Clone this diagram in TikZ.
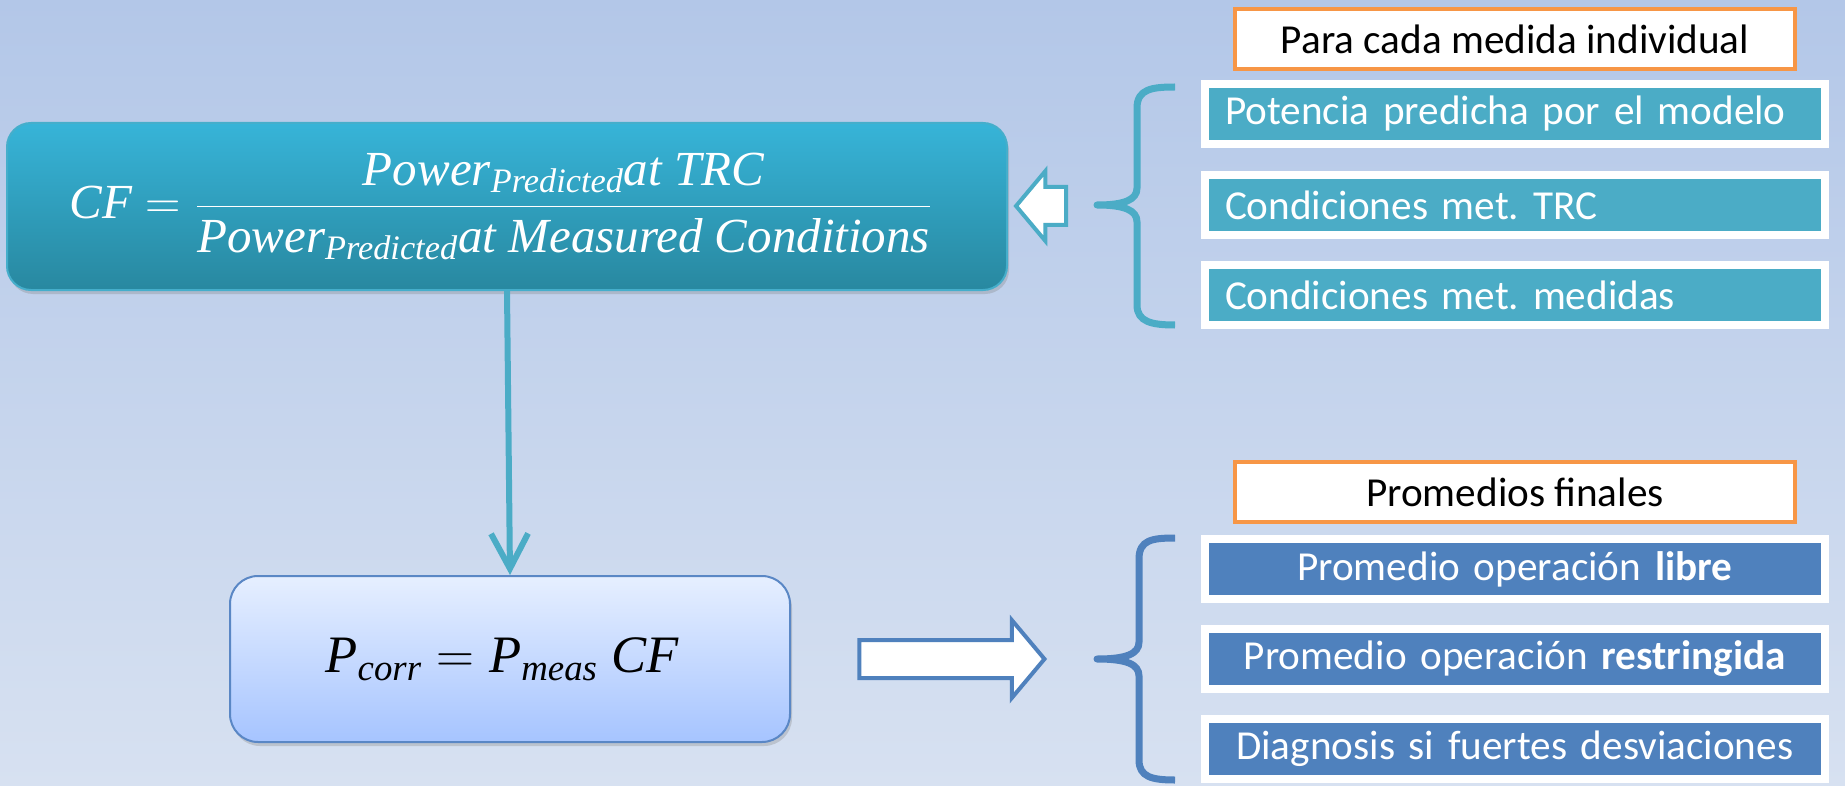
\RequirePackage{fix-cm}
\documentclass[tikz,border=0pt]{standalone}
\usepackage{fontspec}
\setmainfont{Carlito}
\newfontfamily\fserif{Liberation Serif}
\newcommand\fml{\fserif\itshape}
\frenchspacing
\usetikzlibrary{shapes.arrows,arrows.meta,shadows}
\definecolor{bgtop}{HTML}{B3C7E8}
\definecolor{bgbot}{HTML}{D7E1F1}
\definecolor{cftop}{HTML}{37B4D8}
\definecolor{cfbot}{HTML}{2888A0}
\definecolor{cfedge}{HTML}{45AECB}
\definecolor{tealc}{HTML}{4BACC6}
\definecolor{bluec}{HTML}{4F81BD}
\definecolor{orangec}{HTML}{F79646}
\definecolor{pboxtop}{HTML}{E6EFFF}
\definecolor{pboxbot}{HTML}{A6C4FF}
\definecolor{pboxedge}{HTML}{5A87C5}
\tikzset{
  shad/.style={drop shadow={opacity=0.3, shadow xshift=1pt, shadow yshift=-2pt}},
  cfbox/.style={rounded corners=12pt, minimum width=500pt, minimum height=83.5pt,
    top color=cftop, bottom color=cfbot, draw=cfedge, line width=1pt, text=white, shad},
  pbox/.style={rounded corners=14pt, minimum width=280pt, minimum height=83pt,
    top color=pboxtop, bottom color=pboxbot, draw=pboxedge, line width=1pt, text=black, shad},
  itembox/.style={draw=white, line width=4pt, minimum width=309.75pt, minimum height=30pt,
    text width=289.75pt, inner xsep=10pt, inner ysep=0pt, text=white,
    font=\fontsize{20.6}{25}\selectfont, shad},
  tealbox/.style={itembox, fill=tealc, align=left},
  bluebox/.style={itembox, fill=bluec, align=center},
  header/.style={draw=orangec, line width=1.75pt, fill=white, minimum width=280pt,
    minimum height=30pt, inner ysep=0pt, text=black, font=\fontsize{20.6}{25}\selectfont},
  hollow/.style={single arrow, fill=white, line width=2pt, inner xsep=0pt,
    inner ysep=8.5pt, minimum width=0pt, single arrow tip angle=100},
  conn/.style={draw=tealc, line width=3pt, -{Straight Barb[length=17.5pt,width=18.5pt]}},
  bracestyle/.style={line width=3.5pt, line join=round}
}
\begin{document}
\begin{tikzpicture}[x=0.5pt,y=-0.5pt]
\shade[top color=bgtop,bottom color=bgbot] (0,0) rectangle (1845,786);
\useasboundingbox (0,0) rectangle (1845,786);

% main boxes
\node[cfbox] (cf) at (507,206.5)
  {\fontsize{24.5}{29}\selectfont \hspace*{-6pt}$\displaystyle \hbox{\fml CF}=\frac{\hbox{\fml Power\textsubscript{Predicted}at TRC}}{\hbox{\fml Power\textsubscript{Predicted}at Measured Conditions}}$};
\node[pbox] (pb) at (510,659)
  {\fontsize{26.3}{31}\selectfont \hspace*{-8pt}$\hbox{\fml P\textsubscript{corr}}=\hbox{\fml P\textsubscript{meas} CF}$};
\draw[conn] (cf.south) -- (pb.north);

% hollow arrows
\node[hollow, draw=tealc, shape border rotate=180, minimum height=25pt,
  single arrow head extend=8pt] (larr) at (1049,206) {};
\node[hollow, draw=bluec, minimum height=92.5pt,
  single arrow head extend=10pt] (rarr) at (944,659) {};

% top group
\node[header] (h1) at (1515,39) {Para cada medida individual};
\node[tealbox] (t1) at (1514.75,114) {Potencia predicha por el modelo};
\node[tealbox] (t2) at (1514.75,205) {Condiciones met. TRC};
\node[tealbox] (t3) at (1514.75,295) {Condiciones met. medidas};

% bottom group
\node[header] (h2) at (1515,492) {Promedios finales};
\node[bluebox] (b1) at (1514.75,569) {Promedio operación \textbf{libre}};
\node[bluebox] (b2) at (1514.75,659) {Promedio operación \textbf{restringida}};
\node[bluebox] (b3) at (1514.75,749) {Diagnosis si fuertes desviaciones};

% braces
\draw[bracestyle, draw=tealc]
  (1175,87) .. controls (1152,87) and (1137,89) .. (1137,108)
  -- (1137,188) .. controls (1137,200) and (1124,205) .. (1097,205)
  .. controls (1124,205) and (1137,210) .. (1137,222)
  -- (1137,305) .. controls (1137,322) and (1152,325) .. (1175,325);
\draw[bracestyle, draw=bluec]
  (1175,538) .. controls (1152,538) and (1139,540) .. (1139,559)
  -- (1139,642) .. controls (1139,654) and (1126,659) .. (1097,659)
  .. controls (1126,659) and (1139,664) .. (1139,676)
  -- (1139,760) .. controls (1139,777) and (1152,780) .. (1175,780);
\end{tikzpicture}
\end{document}
